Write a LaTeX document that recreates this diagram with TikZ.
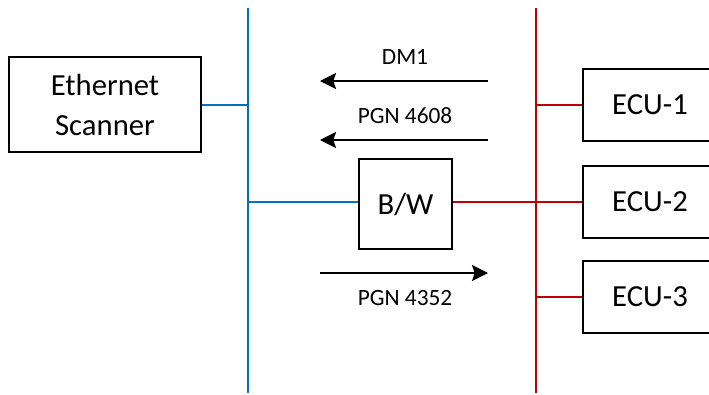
\documentclass[tikz,border=0pt]{standalone}
\usepackage{fontspec}
\setmainfont{Carlito}
\usetikzlibrary{arrows.meta}
\definecolor{busblue}{RGB}{0,112,192}
\definecolor{busred}{RGB}{192,0,0}

\begin{document}
\begin{tikzpicture}[
  x=0.75pt, y=-0.75pt,
  unit/.style={draw=black, line width=1.5pt, fill=white, align=center, inner sep=0pt, font=\fontsize{23}{30}\selectfont},
  ecu/.style={unit, minimum width=100.5pt, minimum height=54pt},
  msg/.style={inner sep=0pt, font=\fontsize{17.5}{21}\selectfont},
  arr/.style={-{Stealth[length=12pt, width=12pt, inset=2pt]}, line width=1.5pt},
  ethbus/.style={draw=busblue, line width=1.5pt},
  canbus/.style={draw=busred, line width=1.5pt}
]
  \useasboundingbox (0,0) rectangle (709,394);
  \clip (0,0) rectangle (709,394);

  % buses
  \coordinate (eth top) at (248,8);
  \coordinate (eth bot) at (248,393);
  \coordinate (can top) at (536,8);
  \coordinate (can bot) at (536,393);
  \draw[ethbus] (eth top) -- (eth bot);
  \draw[canbus] (can top) -- (can bot);

  % units
  \node[unit, minimum width=144pt, minimum height=71pt] (scanner) at (105,104.5) {Ethernet\\Scanner};
  \node[unit, minimum width=69.5pt, minimum height=67.5pt] (bw) at (405.5,204) {B/W};
  \node[ecu] (ecu1) at (650,104.5) {ECU-1};
  \node[ecu] (ecu2) at (650,202) {ECU-2};
  \node[ecu] (ecu3) at (650,297) {ECU-3};

  % taps
  \draw[ethbus] (scanner.east) -- (scanner.east -| eth top);
  \draw[ethbus] (eth top |- ecu2) -- (bw.west |- ecu2);
  \draw[canbus] (bw.east |- ecu2) -- (ecu2.west);
  \draw[canbus] (can top |- ecu1) -- (ecu1.west);
  \draw[canbus] (can top |- ecu3) -- (ecu3.west);

  % messages
  \coordinate (dm1 from) at (488,81);
  \coordinate (dm1 to) at (320,81);
  \coordinate (p4608 from) at (488,140);
  \coordinate (p4608 to) at (320,140);
  \coordinate (p4352 from) at (320,273);
  \coordinate (p4352 to) at (488,273);
  \draw[arr] (dm1 from) -- (dm1 to);
  \draw[arr] (p4608 from) -- (p4608 to);
  \draw[arr] (p4352 from) -- (p4352 to);
  \node[msg] (dm1) at (405,57) {DM1};
  \node[msg] (p4608) at (405,115.5) {PGN 4608};
  \node[msg] (p4352) at (405,297.5) {PGN 4352};
\end{tikzpicture}
\end{document}
